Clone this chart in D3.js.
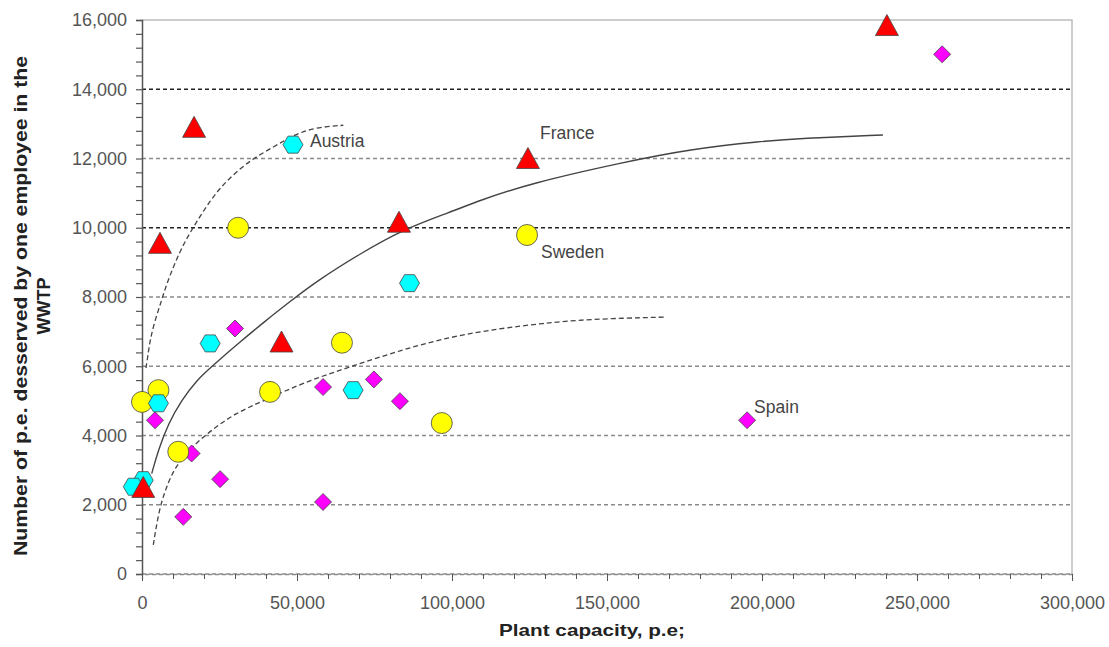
<!DOCTYPE html>
<html>
<head>
<meta charset="utf-8">
<script src="https://cdn.jsdelivr.net/npm/d3@7"></script>
<style>
  body { margin: 0; background: #fff; }
  svg { display: block; font-family: Arial, 'Liberation Sans', sans-serif; }
</style>
</head>
<body>
<div id="chart"></div>
<script>
const WIDTH = 1109
const HEIGHT = 647
const m = { left: 142, right: 37, top: 20, bottom: 73 }

// red triangles
const franceX = [240300, 16800, 5800, 82900, 124500, 45000, 400]
const franceY = [15840, 12900, 9550, 10160, 12000, 6700, 2500]
// yellow circles
const swedenX = [31000, 124200, 64500, 41300, 5300, 0, 11700, 96700]
const swedenY = [10000, 9790, 6680, 5260, 5310, 4970, 3530, 4360]
// cyan hexagons
const austriaX = [48700, 22000, 86300, 68100, 5300, 400, -2800]
const austriaY = [12400, 6660, 8400, 5310, 4930, 2710, 2520]
// magenta diamonds
const spainX = [258100, 30000, 4200, 58400, 74800, 83200, 25200, 13300, 58400, 195200, 16000]
const spainY = [15010, 7090, 4440, 5400, 5620, 4990, 2740, 1650, 2080, 4440, 3480]

// trend lines
const upperTrend = [[1290, 5950], [1840, 6270], [2580, 6750], [4190, 7330], [6360, 7910], [7970, 8390],
  [12260, 9350], [16550, 10020], [21940, 10790], [27320, 11370], [34840, 11950], [42360, 12330],
  [48810, 12670], [55260, 12890], [64940, 12960]]
const middleTrend = [[3130, 2900], [5270, 3580], [8490, 4350], [12810, 5020], [17640, 5600], [23000, 6030],
  [31070, 6660], [39680, 7300], [47200, 7830], [56360, 8460], [70330, 9250], [84200, 9950],
  [99400, 10450], [109000, 10790], [125200, 11280], [155200, 11890], [176800, 12270],
  [200300, 12500], [212300, 12580], [239000, 12680]]
const lowerTrend = [[3650, 840], [5270, 1750], [7420, 2420], [10650, 3100], [16030, 3670], [22480, 4160],
  [30000, 4640], [39680, 5020], [52580, 5550], [67100, 5980], [83230, 6460], [99360, 6850],
  [115500, 7090], [129460, 7240], [143500, 7360], [168700, 7420]]

const xTicks = [0, 50000, 100000, 150000, 200000, 250000, 300000]
const yTicks = [0, 2000, 4000, 6000, 8000, 10000, 12000, 14000, 16000]
const darkGrid = [10000, 14000]

const labels = [
  { text: 'Austria', x: 48700, y: 12400, dx: 17, dy: -4 },
  { text: 'France', x: 124500, y: 12000, dx: 12, dy: -26 },
  { text: 'Sweden', x: 124200, y: 9790, dx: 14, dy: 17 },
  { text: 'Spain', x: 195200, y: 4440, dx: 7, dy: -13 }
]

const x = d3.scaleLinear().domain([0, 300000]).range([m.left, WIDTH - m.right])
const y = d3.scaleLinear().domain([0, 16000]).range([HEIGHT - m.bottom, m.top])

const svg = d3.select('#chart').append('svg')
  .attr('width', WIDTH)
  .attr('height', HEIGHT)

// gridlines
svg.append('g').selectAll('line')
  .data(yTicks.filter(d => d < 16000))
  .enter().append('line')
  .attr('x1', x(0)).attr('x2', x(300000))
  .attr('y1', d => y(d)).attr('y2', d => y(d))
  .attr('stroke', d => darkGrid.includes(d) ? '#222' : '#8a8a8a')
  .attr('stroke-width', 1.3)
  .attr('stroke-dasharray', '4,3')

// frame top + right
svg.append('path')
  .attr('d', `M${x(0)},${y(16000)}H${x(300000)}V${y(0)}`)
  .attr('fill', 'none')
  .attr('stroke', '#bdbdbd')
  .attr('stroke-width', 1.5)

// y axis
const yAxis = d3.axisLeft(y)
  .tickValues(d3.range(0, 16001, 400))
  .tickSize(6)
  .tickFormat(d => yTicks.includes(d) ? d3.format(',')(d) : '')
const gy = svg.append('g')
  .attr('transform', `translate(${x(0)},0)`)
  .call(yAxis)
gy.select('.domain').attr('stroke', '#555').attr('stroke-width', 1.5)
gy.selectAll('.tick line').attr('stroke', '#555').attr('stroke-width', 1.2)
gy.selectAll('.tick text')
  .attr('x', -15)
  .attr('fill', '#555')
  .attr('font-size', 18)

// x axis
const xAxis = d3.axisBottom(x)
  .tickValues(d3.range(0, 300001, 10000))
  .tickSize(5)
  .tickFormat(d => xTicks.includes(d) ? d3.format(',')(d) : '')
const gx = svg.append('g')
  .attr('transform', `translate(0,${y(0)})`)
  .call(xAxis)
gx.select('.domain').attr('stroke', '#8a8a8a').attr('stroke-width', 1.3).attr('stroke-dasharray', '4,3')
gx.selectAll('.tick line')
  .attr('stroke', '#555')
  .attr('y2', d => xTicks.includes(d) ? 7 : 5)
gx.selectAll('.tick text')
  .attr('y', 22)
  .attr('fill', '#555')
  .attr('font-size', 18)

// trend lines
const line = d3.line()
  .x(d => x(d[0]))
  .y(d => y(d[1]))
  .curve(d3.curveBasis)

svg.append('path').datum(upperTrend)
  .attr('d', line).attr('fill', 'none')
  .attr('stroke', '#444').attr('stroke-width', 1.3).attr('stroke-dasharray', '5,3')
svg.append('path').datum(middleTrend)
  .attr('d', line).attr('fill', 'none')
  .attr('stroke', '#444').attr('stroke-width', 1.4)
svg.append('path').datum(lowerTrend)
  .attr('d', line).attr('fill', 'none')
  .attr('stroke', '#444').attr('stroke-width', 1.3).attr('stroke-dasharray', '5,3')

// marker shapes
const diamond = 'M0,-8.5L8.5,0L0,8.5L-8.5,0Z'
const hexagon = 'M-10,0L-5,-8.5L5,-8.5L10,0L5,8.5L-5,8.5Z'
const triangle = 'M0,-11L11.5,10L-11.5,10Z'

function drawSeries (xs, ys, shape, fill) {
  const pts = xs.map((v, i) => [v, ys[i]])
  const g = svg.append('g')
  if (shape === 'circle') {
    g.selectAll('circle')
      .data(pts)
      .enter().append('circle')
      .attr('cx', d => x(d[0]))
      .attr('cy', d => y(d[1]))
      .attr('r', 10.5)
      .attr('fill', fill)
      .attr('stroke', '#444')
      .attr('stroke-width', 0.8)
  } else {
    g.selectAll('path')
      .data(pts)
      .enter().append('path')
      .attr('d', shape)
      .attr('transform', d => `translate(${x(d[0])},${y(d[1])})`)
      .attr('fill', fill)
      .attr('stroke', '#444')
      .attr('stroke-width', 0.8)
  }
}

drawSeries(spainX, spainY, diamond, '#ff00ff')
drawSeries(swedenX, swedenY, 'circle', '#ffff00')
drawSeries(austriaX, austriaY, hexagon, '#00ffff')
drawSeries(franceX, franceY, triangle, '#ff0000')

// country labels
svg.append('g').selectAll('text')
  .data(labels)
  .enter().append('text')
  .attr('x', d => x(d.x) + d.dx)
  .attr('y', d => y(d.y) + d.dy)
  .attr('dy', '0.35em')
  .attr('fill', '#444')
  .attr('font-size', 17.5)
  .text(d => d.text)

// axis titles
svg.append('text')
  .attr('x', 592)
  .attr('y', 636)
  .attr('text-anchor', 'middle')
  .attr('font-size', 17)
  .attr('font-weight', 'bold')
  .attr('fill', '#222')
  .attr('textLength', 186)
  .attr('lengthAdjust', 'spacingAndGlyphs')
  .text('Plant capacity, p.e;')

const yTitle = svg.append('g')
  .attr('transform', 'translate(0,306) rotate(-90)')
yTitle.append('text')
  .attr('x', 0).attr('y', 27)
  .attr('text-anchor', 'middle')
  .attr('font-size', 18)
  .attr('font-weight', 'bold')
  .attr('fill', '#222')
  .attr('textLength', 500)
  .attr('lengthAdjust', 'spacingAndGlyphs')
  .text('Number of p.e. desserved by one employee in the')
yTitle.append('text')
  .attr('x', 0).attr('y', 50)
  .attr('text-anchor', 'middle')
  .attr('font-size', 18)
  .attr('font-weight', 'bold')
  .attr('fill', '#222')
  .text('WWTP')
</script>
</body>
</html>
